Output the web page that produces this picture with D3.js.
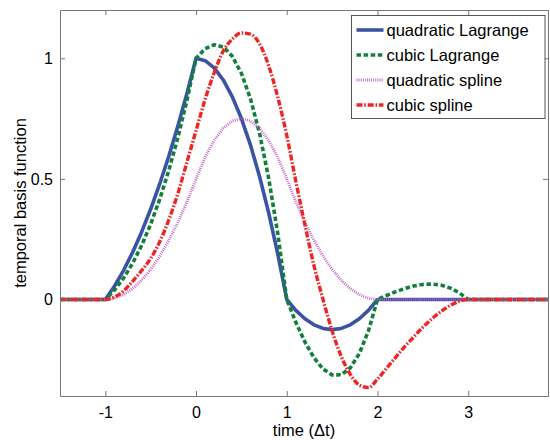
<!DOCTYPE html>
<html>
<head>
<meta charset="utf-8">
<script src="https://cdn.jsdelivr.net/npm/d3@7"></script>
<style>
  body { margin: 0; background: #fff; }
  text { font-family: "Liberation Sans", Arial, Helvetica, sans-serif; }
</style>
</head>
<body>
<div id="chart"></div>
<script>
// sample times (time step units)
const times = [-1.5,
  -1.0, -0.9, -0.8, -0.7, -0.6, -0.5, -0.4, -0.3, -0.2, -0.1,
   0.0,  0.1,  0.2,  0.3,  0.4,  0.5,  0.6,  0.7,  0.8,  0.9,
   1.0,  1.1,  1.2,  1.3,  1.4,  1.5,  1.6,  1.7,  1.8,  1.9,
   2.0,  2.1,  2.2,  2.3,  2.4,  2.5,  2.6,  2.7,  2.8,  2.9,
   3.0, 3.88];

const quadLagrange = [0,
  0, 0.055, 0.12, 0.195, 0.28, 0.375, 0.48, 0.595, 0.72, 0.855,
  1, 0.99, 0.96, 0.91, 0.84, 0.75, 0.64, 0.51, 0.36, 0.19,
  0, -0.045, -0.08, -0.105, -0.12, -0.125, -0.12, -0.105, -0.08, -0.045,
  0, 0, 0, 0, 0, 0, 0, 0, 0, 0,
  0, 0];

const cubicLagrange = [0,
  0, 0.0385, 0.088, 0.1495, 0.224, 0.3125, 0.416, 0.5355, 0.672, 0.8265,
  1, 1.0395, 1.056, 1.0465, 1.008, 0.9375, 0.832, 0.6885, 0.504, 0.2755,
  0, -0.0945, -0.176, -0.2415, -0.288, -0.3125, -0.312, -0.2835, -0.224, -0.1305,
  0, 0.0165, 0.032, 0.0455, 0.056, 0.0625, 0.064, 0.0595, 0.048, 0.0285,
  0, 0];

const quadSpline = [0,
  0, 0.005, 0.02, 0.045, 0.08, 0.125, 0.18, 0.245, 0.32, 0.405,
  0.5, 0.59, 0.66, 0.71, 0.74, 0.75, 0.74, 0.71, 0.66, 0.59,
  0.5, 0.405, 0.32, 0.245, 0.18, 0.125, 0.08, 0.045, 0.02, 0.005,
  0, 0, 0, 0, 0, 0, 0, 0, 0, 0,
  0, 0];

const cubicSpline = [0,
  0, 0.01, 0.035, 0.075, 0.12, 0.17, 0.24, 0.33, 0.44, 0.57,
  0.70, 0.83, 0.94, 1.03, 1.08, 1.105, 1.10, 1.06, 0.97, 0.84,
  0.68, 0.49, 0.31, 0.14, 0.0, -0.13, -0.235, -0.31, -0.355, -0.365,
  -0.33, -0.285, -0.24, -0.195, -0.155, -0.115, -0.08, -0.05, -0.025, -0.008,
  0, 0];

const seriesNames = ['quadratic Lagrange', 'cubic Lagrange', 'quadratic spline', 'cubic spline'];
const xTicks = [-1, 0, 1, 2, 3];
const yTicks = [0, 0.5, 1];

// FIGURE DIMENSIONS
const FIGURE = { WIDTH: 550, HEIGHT: 440 };
const MARGINS = { LEFT: 60, TOP: 10, RIGHT: 2, BOTTOM: 44 };
const PLOT = {
  WIDTH: FIGURE.WIDTH - MARGINS.LEFT - MARGINS.RIGHT,
  HEIGHT: FIGURE.HEIGHT - MARGINS.TOP - MARGINS.BOTTOM
};

const STYLES = [
  { color: '#3a53a4', width: 3.6, dash: null },
  { color: '#127f3b', width: 3.6, dash: '4.5,2.6' },
  { color: '#bf5cc4', width: 2.8, dash: '0.9,1.2' },
  { color: '#ee2427', width: 3.4, dash: '6,1.8,1.6,1.8' }
];

const x = d3.scaleLinear().domain([-1.5, 3.88]).range([0, PLOT.WIDTH]);
const y = d3.scaleLinear().domain([-0.4, 1.2]).range([PLOT.HEIGHT, 0]);

const canvas = d3.select('#chart')
  .append('svg')
    .attr('width', FIGURE.WIDTH)
    .attr('height', FIGURE.HEIGHT);

const plot = canvas.append('g')
  .attr('transform', `translate(${MARGINS.LEFT}, ${MARGINS.TOP})`);

// curves
const series = [quadLagrange, cubicLagrange, quadSpline, cubicSpline];
const line = d3.line()
  .x(d => x(d[0]))
  .y(d => y(d[1]));

plot.append('g')
    .attr('class', 'curves')
  .selectAll('path')
  .data(series)
  .enter()
  .append('path')
    .attr('d', (s, i) => line.curve(i === 3 ? d3.curveMonotoneX : d3.curveLinear)(times.map((t, k) => [t, s[k]])))
    .attr('fill', 'none')
    .attr('stroke', (s, i) => STYLES[i].color)
    .attr('stroke-width', (s, i) => STYLES[i].width)
    .attr('stroke-dasharray', (s, i) => STYLES[i].dash)
    .attr('stroke-linejoin', 'round');

// axes (box with inward ticks)
const axisColor = '#777';
const fmt = d => String(d);

const xAxis = plot.append('g')
  .attr('transform', `translate(0, ${PLOT.HEIGHT})`)
  .call(d3.axisBottom(x).tickValues(xTicks).tickFormat(fmt).tickSizeInner(-5).tickSizeOuter(0).tickPadding(11));
const xAxisTop = plot.append('g')
  .call(d3.axisTop(x).tickValues(xTicks).tickFormat('').tickSizeInner(-5).tickSizeOuter(0));
const yAxis = plot.append('g')
  .call(d3.axisLeft(y).tickValues(yTicks).tickFormat(fmt).tickSizeInner(-5).tickSizeOuter(0).tickPadding(7));
const yAxisRight = plot.append('g')
  .attr('transform', `translate(${PLOT.WIDTH}, 0)`)
  .call(d3.axisRight(y).tickValues(yTicks).tickFormat('').tickSizeInner(-5).tickSizeOuter(0));

[xAxis, xAxisTop, yAxis, yAxisRight].forEach(a => {
  a.selectAll('path, line').attr('stroke', axisColor).attr('stroke-width', 1);
  a.selectAll('text').attr('fill', '#000').attr('font-size', 16)
    .attr('font-family', '"Liberation Sans", Arial, sans-serif');
});

// axis labels
canvas.append('text')
  .attr('x', MARGINS.LEFT + PLOT.WIDTH / 2)
  .attr('y', 436)
  .attr('text-anchor', 'middle')
  .attr('font-size', 16.5)
  .text('time (\u0394t)');

canvas.append('text')
  .attr('transform', `translate(26, ${MARGINS.TOP + PLOT.HEIGHT / 2}) rotate(-90)`)
  .attr('text-anchor', 'middle')
  .attr('font-size', 16.5)
  .text('temporal basis function');

// legend
const legend = canvas.append('g')
  .attr('transform', 'translate(351.5, 15.5)');

legend.append('rect')
  .attr('width', 193.5)
  .attr('height', 103)
  .attr('fill', '#fff')
  .attr('stroke', '#555')
  .attr('stroke-width', 1);

const rows = legend.selectAll('g.row')
  .data(seriesNames)
  .enter()
  .append('g')
    .attr('class', 'row')
    .attr('transform', (d, i) => `translate(0, ${14.5 + i * 25})`);

rows.append('line')
  .attr('x1', 5)
  .attr('x2', 32)
  .attr('stroke', (d, i) => STYLES[i].color)
  .attr('stroke-width', (d, i) => STYLES[i].width)
  .attr('stroke-dasharray', (d, i) => STYLES[i].dash);

rows.append('text')
  .attr('x', 35)
  .attr('dy', '0.35em')
  .attr('font-size', 16.5)
  .text(d => d);
</script>
</body>
</html>
